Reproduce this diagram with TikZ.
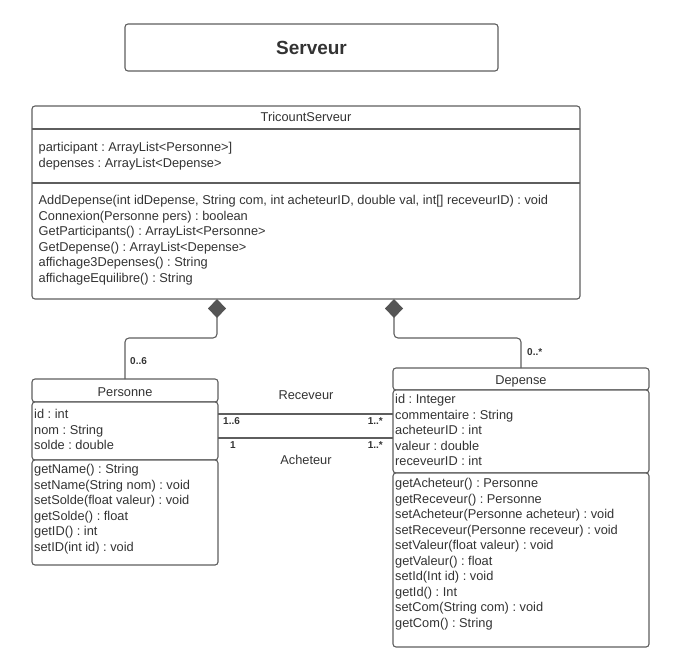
\documentclass[tikz,border=0pt]{standalone}
\usepackage{fontspec}
\setmainfont{Liberation Sans}
\usetikzlibrary{arrows.meta,calc}
\definecolor{ln}{HTML}{5E5E5E}
\definecolor{tx}{HTML}{333333}
\definecolor{dia}{HTML}{555555}
\frenchspacing
\begin{document}
\begin{tikzpicture}[x=1bp,y=-1bp,
  box/.style={draw=ln, line width=1.1bp, rounded corners=3bp, fill=white, inner sep=0, outer sep=0, anchor=north west},
  mem/.style={font=\fontsize{12.8bp}{15.5bp}\selectfont\frenchspacing, text=tx, inner sep=0, anchor=base west},
  ttl/.style={font=\fontsize{12.8bp}{15.5bp}\selectfont, text=tx, inner sep=0, anchor=base},
  mult/.style={font=\fontsize{10bp}{12bp}\selectfont\bfseries, text=tx, inner sep=0},
  lbl/.style={font=\fontsize{12.8bp}{15.5bp}\selectfont, text=tx, inner sep=0},
  conn/.style={draw=ln, line width=1.1bp},
  comp/.style={conn, rounded corners=4bp, -{Diamond[length=19bp,width=18bp,fill=dia,color=dia]}}
]
\useasboundingbox (0,0) rectangle (683,666);

% Serveur
\node[box, minimum width=373bp, minimum height=47bp] (srv) at (125,24) {};
\node[font=\fontsize{19bp}{22bp}\selectfont\bfseries, text=tx, inner sep=0] (srvt) at (srv.center) {Serveur};

% TricountServeur
\node[box, minimum width=548bp, minimum height=193bp] (ts) at (32,106) {};
\draw[conn] (ts.west |- 0,129) -- (ts.east |- 0,129);
\draw[conn] (ts.west |- 0,183) -- (ts.east |- 0,183);
\node[ttl] (tst) at (306,122) {TricountServeur};
\foreach \t [count=\i from 0] in {{participant : ArrayList<Personne>]},{depenses : ArrayList<Depense>}}
  \node[mem] (tsa\i) at (38.5,{151.5+15.5*\i}) {\t};
\foreach \t [count=\i from 0] in {{AddDepense(int idDepense, String com, int acheteurID, double val, int[] receveurID) : void},{Connexion(Personne pers) : boolean},{GetParticipants() : ArrayList<Personne>},{GetDepense() : ArrayList<Depense>},{affichage3Depenses() : String},{affichageEquilibre() : String}}
  \node[mem] (tsm\i) at (38.5,{204.5+15.5*\i}) {\t};

% Personne
\node[box, minimum width=186bp, minimum height=23bp] (pt) at (32,379) {};
\node[box, minimum width=186bp, minimum height=58bp] (pa) at (32,402) {};
\node[box, minimum width=186bp, minimum height=105bp] (pm) at (32,460) {};
\node[ttl] (ptt) at (125,396) {Personne};
\foreach \t [count=\i from 0] in {{id : int},{nom : String},{solde : double}}
  \node[mem] (paa\i) at (34,{418.5+15.5*\i}) {\t};
\foreach \t [count=\i from 0] in {{getName() : String},{setName(String nom) : void},{setSolde(float valeur) : void},{getSolde() : float},{getID() : int},{setID(int id) : void}}
  \node[mem] (pmm\i) at (34,{473.5+15.5*\i}) {\t};

% Depense
\node[box, minimum width=256bp, minimum height=22bp] (dt) at (393,368) {};
\node[box, minimum width=256bp, minimum height=83bp] (da) at (393,390) {};
\node[box, minimum width=256bp, minimum height=174bp] (dm) at (393,473) {};
\node[ttl] (dtt) at (521,384.5) {Depense};
\foreach \t [count=\i from 0] in {{id : Integer},{commentaire : String},{acheteurID : int},{valeur : double},{receveurID : int}}
  \node[mem] (daa\i) at (395,{403.5+15.5*\i}) {\t};
\foreach \t [count=\i from 0] in {{getAcheteur() : Personne},{getReceveur() : Personne},{setAcheteur(Personne acheteur) : void},{setReceveur(Personne receveur) : void},{setValeur(float valeur) : void},{getValeur() : float},{setId(Int id) : void},{getId() : Int},{setCom(String com) : void},{getCom() : String}}
  \node[mem] (dmm\i) at (395,{487.5+15.5*\i}) {\t};

% compositions
\coordinate (dl) at ($(ts.south west)+(185,0)$);
\coordinate (dr) at ($(ts.south west)+(362,0)$);
\draw[comp] (pt.north) |- ($(dl)+(0,39)$) -- (dl);
\draw[comp] (dt.north) |- ($(dr)+(0,39)$) -- (dr);

% associations
\draw[conn] (pa.east |- 0,414) -- (da.west |- 0,414);
\draw[conn] (pa.east |- 0,438) -- (da.west |- 0,438);

% labels
\node[lbl] (rcv) at (306,395) {Receveur};
\node[lbl] (ach) at (306,460) {Acheteur};
\node[mult, anchor=west] (m06) at (130,361) {0..6};
\node[mult, anchor=west] (m0s) at (527,352) {0..*};
\node[mult, anchor=west] (m16) at (223,421) {1..6};
\node[mult, anchor=west] (m1) at (230,445) {1};
\node[mult, anchor=east] (m1sa) at (383,421) {1..*};
\node[mult, anchor=east] (m1sb) at (383,445) {1..*};
\end{tikzpicture}
\end{document}
